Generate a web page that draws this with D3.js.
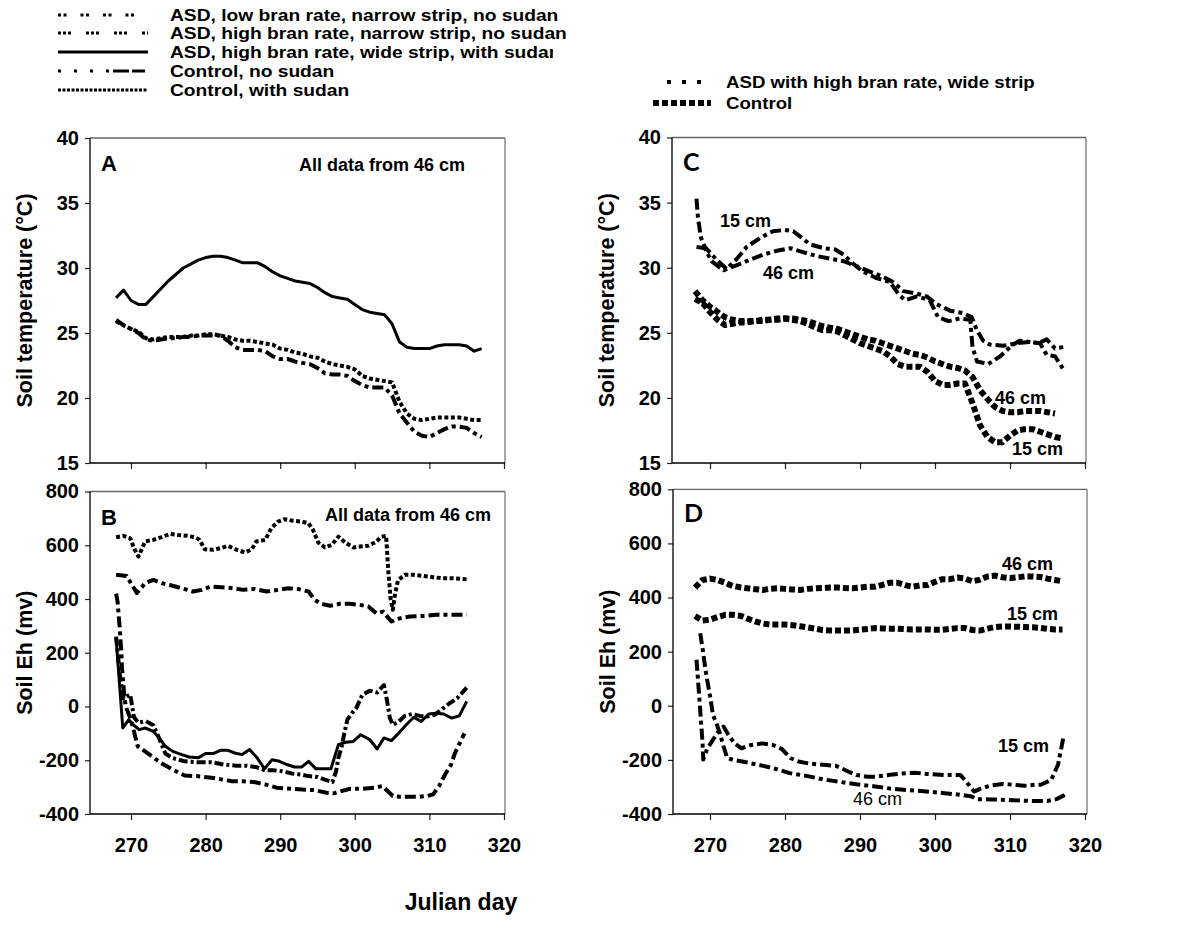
<!DOCTYPE html>
<html>
<head>
<meta charset="utf-8">
<script src="https://cdn.jsdelivr.net/npm/d3@7"></script>
<style>
  body { margin: 0; background: #fff; }
  svg { display: block; font-family: "Liberation Sans", Arial, sans-serif; }
</style>
</head>
<body>
<svg id="chart" width="1181" height="928"></svg>
<script>
// ---- data ----
const xTicks = [270, 280, 290, 300, 310, 320];
const tempTicks = [15, 20, 25, 30, 35, 40];
const ehTicks = [-400, -200, 0, 200, 400, 600, 800];

const dailyDays = [268, 269, 270, 271, 272, 273, 274, 275, 276, 277, 278, 279, 280, 281, 282, 283, 284, 285, 286, 287,
  288, 289, 290, 291, 292, 293, 294, 295, 296, 297, 298, 299, 300, 301, 302, 303, 304, 305, 306, 307,
  308, 309, 310, 311, 312, 313, 314, 315, 316, 317];

// Panel A - soil temperature at 46 cm
const aAsdWideSudan = [27.7, 28.3, 27.5, 27.2, 27.2, 27.8, 28.4, 29.0, 29.5, 30.0, 30.3, 30.6, 30.8, 30.9, 30.9, 30.8, 30.6, 30.4, 30.4, 30.4,
  30.1, 29.7, 29.4, 29.2, 29.0, 28.9, 28.8, 28.5, 28.1, 27.8, 27.7, 27.6, 27.2, 26.8, 26.6, 26.5, 26.4, 25.7, 24.3, 23.9,
  23.8, 23.8, 23.8, 24.0, 24.1, 24.1, 24.1, 24.0, 23.6, 23.8];
const aCtrlSudan = [25.9, 25.6, 25.3, 25.1, 24.6, 24.5, 24.6, 24.7, 24.7, 24.7, 24.8, 24.8, 24.9, 24.9, 24.8, 24.7, 24.5, 24.4, 24.4, 24.3,
  24.2, 24.1, 23.8, 23.7, 23.5, 23.4, 23.2, 23.1, 22.8, 22.6, 22.5, 22.4, 22.2, 21.7, 21.5, 21.4, 21.3, 21.2, 19.7, 18.8,
  18.4, 18.3, 18.4, 18.5, 18.5, 18.5, 18.5, 18.4, 18.3, 18.3];
const aCtrlNoSudan = [26.0, 25.6, 25.3, 25.0, 24.5, 24.4, 24.5, 24.6, 24.6, 24.7, 24.7, 24.8, 24.8, 24.8, 24.8, 24.4, 23.9, 23.7, 23.7, 23.7,
  23.6, 23.2, 23.0, 23.0, 22.8, 22.7, 22.6, 22.3, 21.9, 21.8, 21.8, 21.7, 21.3, 21.0, 20.8, 20.8, 20.8, 20.2, 18.8, 18.1,
  17.4, 17.1, 17.0, 17.3, 17.6, 17.8, 17.8, 17.7, 17.3, 17.0];

// Panel B - soil Eh at 46 cm
const bSudanDays = [268, 269, 269.9, 270.5, 271, 271.9, 273, 274.1, 275.2, 276.3, 277.5, 278.6, 279.2, 279.9, 281, 282, 283, 284.2, 285.3, 286.2,
  286.8, 288, 288.8, 289.7, 290.6, 291.7, 292.9, 293.8, 294.4, 295.1, 296, 296.9, 297.8, 298.7, 299.8, 300.7, 301.8, 302.7, 303.6, 304.2,
  304.5, 304.8, 305.1, 305.4, 305.8, 306.7, 307.8, 309.2, 310.5, 311.8, 313.2, 315];
const bSudanEh = [630, 635, 626, 583, 558, 614, 620, 630, 642, 638, 635, 630, 620, 585, 583, 589, 598, 583, 573, 585,
  614, 620, 663, 688, 697, 691, 688, 682, 657, 610, 592, 601, 632, 610, 592, 595, 598, 610, 632, 635,
  500, 400, 360, 420, 470, 490, 490, 486, 481, 477, 477, 473];
const bNoSudanDays = [268, 269.4, 270.8, 271.9, 273, 274.1, 275.2, 276.8, 278.3, 279.5, 280.6, 282.1, 283.7, 285, 286.6, 288.2, 289.7, 291.1,
  292.4, 293.8, 294.6, 295.5, 296.7, 298, 299.3, 300.7, 301.8, 302.9, 303.8, 304.9, 306, 307.4, 309.2, 310.9, 312.7, 315];
const bNoSudanEh = [490, 486, 422, 459, 471, 459, 452, 440, 428, 434, 446, 444, 440, 434, 437, 428, 434, 440,
  437, 428, 397, 382, 375, 382, 382, 378, 372, 347, 353, 316, 328, 335, 337, 341, 341, 341];
const bWideSudanDays = [268, 268.9, 269.7, 270.3, 271.1, 271.9, 273, 273.8, 274.6, 275.6, 276.8, 277.8, 279, 280, 281, 282, 283, 283.9,
  284.9, 285.9, 286.9, 287.9, 288.9, 289.9, 290.9, 291.9, 292.9, 293.8, 294.8, 295.8, 296.8, 297.8, 298.8, 299.8, 300.8, 302,
  303, 303.9, 304.9, 305.9, 306.9, 307.9, 308.9, 309.9, 310.9, 311.9, 313, 314, 315];
const bWideSudanEh = [255, -80, -49, -68, -86, -80, -93, -117, -148, -167, -179, -188, -191, -175, -175, -163, -163, -173,
  -179, -160, -191, -232, -198, -204, -216, -225, -225, -204, -232, -232, -232, -142, -133, -130, -105, -123,
  -158, -117, -127, -99, -68, -40, -56, -28, -25, -28, -43, -35, 19];
const bLowBranDays = [268, 268.5, 269, 269.9, 270.4, 271, 272, 273, 273.8, 274.6, 275.6, 277.2, 278.8, 280.8, 282.4, 284, 285.5, 286.7,
  287.9, 289, 290.3, 291.5, 292.7, 293.8, 295, 296, 297, 297.5, 297.8, 298.2, 298.6, 299, 299.6, 300.2, 301, 302,
  303, 303.9, 304.3, 304.7, 305.1, 305.9, 306.7, 307.7, 308.7, 309.7, 310.7, 311.7, 312.7, 313.7, 315];
const bLowBranEh = [260, 120, 30, 45, -40, -60, -55, -70, -120, -175, -192, -204, -207, -207, -216, -220, -220, -225,
  -237, -237, -241, -249, -253, -259, -262, -272, -281, -240, -191, -154, -99, -49, -25, -6, 43, 59,
  52, 80, 25, -43, -68, -56, -35, -28, -35, -37, -31, -10, 12, 30, 70];
const bHighNarrowDays = [268, 268.2, 268.4, 268.5, 268.6, 268.7, 268.8, 268.9, 269.1, 269.3, 270, 270.9, 272.3, 274, 275.6, 277.2,
  278.8, 280.8, 282.3, 283.5, 285, 286.5, 288, 289.5, 291.5, 293, 294.6, 296.2, 297.2, 298.2, 299.4, 301,
  302.6, 303.7, 305.1, 306.1, 307.3, 308.5, 309.7, 310.5, 311.3, 312.1, 312.9, 313.4, 314, 314.7];
const bHighNarrowEh = [420, 390, 320, 290, 240, 210, 140, 110, 40, 0, -50, -148, -175, -210, -235, -257,
  -259, -265, -272, -278, -278, -281, -290, -302, -306, -309, -311, -321, -323, -315, -306, -306,
  -302, -296, -333, -336, -336, -336, -333, -327, -296, -253, -216, -175, -140, -100];

// Panel C - soil temperature, ASD vs control at 15 and 46 cm
const cAsd15Days = [268.2, 268.4, 268.8, 269.3, 270.9, 272.2, 273.6, 274.9, 276.7, 278.4, 280, 281.1, 282, 283.3, 285.1, 286.7, 287.8, 289.1,
  290.4, 292.2, 294, 295.1, 296, 297.6, 299.3, 300.4, 301.8, 303.3, 304.7, 305, 305.6, 307.1, 308.7, 310.2, 311.3, 312.7,
  314, 314.9, 316, 317.1];
const cAsd15 = [35.3, 33.8, 32.3, 31.6, 30.6, 29.9, 30.7, 31.6, 32.3, 32.8, 32.9, 32.8, 32.4, 31.8, 31.5, 31.4, 31.0, 30.3,
  29.7, 29.2, 28.9, 28.0, 27.5, 27.8, 27.5, 26.2, 25.9, 26.1, 26.0, 23.9, 22.8, 22.6, 23.2, 24.0, 24.4, 24.3,
  24.2, 23.3, 23.2, 22.2];
const cAsd46Days = [268.2, 269.3, 270.2, 271.8, 273.6, 275.3, 277.1, 278.9, 280.7, 282.4, 284.2, 286, 287.8, 289.6, 291.3, 293.1, 294.4,
  295.8, 297.6, 298.9, 300.2, 302, 303.8, 304.9, 305.6, 306.4, 307.3, 309.1, 310.9, 312.7, 313.8, 314.9, 316, 317.1];
const cAsd46 = [31.6, 31.5, 30.5, 29.8, 30.2, 30.6, 31.0, 31.3, 31.5, 31.2, 30.9, 30.7, 30.5, 30.1, 29.7, 29.3, 28.9,
  28.2, 28.0, 27.8, 27.2, 26.7, 26.5, 26.2, 25.2, 24.4, 24.1, 24.0, 24.2, 24.3, 24.2, 24.5, 23.8, 23.9];
const cCtrl46 = [28.2, 27.5, 27.0, 26.6, 26.2, 26.0, 25.9, 25.9, 25.9, 26.0, 26.0, 26.1, 26.1, 26.1, 26.0, 25.9, 25.7, 25.5, 25.4, 25.3,
  25.1, 24.9, 24.7, 24.5, 24.4, 24.2, 24.0, 23.8, 23.6, 23.4, 23.3, 23.1, 22.8, 22.6, 22.4, 22.3, 22.1, 21.6, 20.6, 19.9,
  19.3, 19.0, 18.9, 18.9, 19.0, 19.0, 19.0, 18.9, 18.8];
const cCtrl15 = [27.6, 27.3, 26.6, 26.0, 25.6, 25.7, 25.8, 25.8, 25.9, 25.9, 26.0, 26.0, 26.1, 26.0, 25.9, 25.7, 25.4, 25.2, 25.2, 25.1,
  24.8, 24.5, 24.2, 24.0, 23.8, 23.6, 23.2, 22.6, 22.4, 22.4, 22.4, 22.0, 21.3, 21.0, 21.0, 21.1, 21.1, 19.6, 17.9, 17.0,
  16.6, 16.6, 17.1, 17.5, 17.6, 17.6, 17.4, 17.2, 17.0, 16.9];

// Panel D - soil Eh, ASD vs control at 15 and 46 cm
const dCtrl46 = [437, 465, 470, 465, 455, 443, 438, 434, 431, 428, 432, 434, 432, 430, 428, 432, 434, 435, 437, 437,
  435, 434, 437, 440, 440, 447, 455, 455, 446, 440, 445, 446, 458, 468, 468, 474, 470, 460, 466, 478,
  481, 475, 472, 475, 478, 478, 476, 470, 465, 460];
const dCtrl15 = [332, 315, 318, 328, 336, 336, 333, 322, 312, 304, 300, 300, 300, 298, 294, 290, 285, 280, 278, 278,
  278, 278, 281, 284, 287, 286, 285, 285, 283, 282, 282, 282, 281, 281, 284, 287, 287, 280, 278, 285,
  291, 293, 293, 292, 291, 290, 288, 284, 282, 282];
const dAsd15Days = [268.2, 268.4, 268.6, 268.8, 269, 269.1, 269.6, 270.3, 271, 271.8, 272.5, 273.3, 274.2, 275.5, 277, 278.4, 279.6, 280.7,
  281.8, 283.3, 285.1, 286.8, 288.2, 289.5, 291, 292.2, 294, 296.2, 297.5, 298.9, 301.2, 303.4, 304.3, 305.2, 306.2, 307.4,
  309, 310.5, 311.9, 313, 314.1, 315.5, 316.4, 317.1];
const dAsd15 = [170, 95, 20, -58, -133, -199, -160, -130, -100, -77, -110, -140, -157, -145, -139, -145, -160, -193,
  -206, -214, -218, -222, -240, -256, -262, -262, -255, -249, -248, -252, -256, -256, -285, -317, -305, -295,
  -289, -292, -296, -293, -292, -274, -218, -120];
const dAsd46Days = [268.7, 269.1, 269.5, 270, 270.4, 270.8, 271.3, 271.8, 272.3, 273.1, 275, 277.1, 279, 280.6, 283, 285.1, 287,
  289.5, 292, 294, 296.5, 298.5, 301, 303, 304.9, 305.5, 307.4, 309.5, 311.9, 313.5, 315, 316.2, 317.3];
const dAsd46 = [268, 194, 114, 37, -35, -60, -100, -150, -193, -200, -210, -222, -235, -249, -260, -272, -280,
  -290, -298, -306, -312, -316, -322, -328, -335, -345, -346, -348, -351, -352, -352, -345, -330];

const legendLeft = ["ASD, low bran rate, narrow strip, no sudan", "ASD, high bran rate, narrow strip, no sudan",
  "ASD, high bran rate, wide strip, with sudan", "Control, no sudan", "Control, with sudan"];
const legendRight = ["ASD with high bran rate, wide strip", "Control"];

// ---- drawing ----
const svg = d3.select("#chart");
const sans = "'Liberation Sans', Arial, sans-serif";

const style = {
  lowBran: { w: 4, dash: "9,3,3,3" },
  highNarrow: { w: 4, dash: "11,4,4,4" },
  wideSudan: { w: 3, dash: null },
  noSudan: { w: 4, dash: "11,4,4,4" },
  withSudan: { w: 4, dash: "4,2.5" },
  asd: { w: 4, dash: "11,4,4,4" },
  ctrl: { w: 6, dash: "6,3" }
};

// the original lettering is a little wider than plain Arial
function widen(sel, k) {
  sel.each(function () {
    const w = this.getComputedTextLength();
    d3.select(this).attr("textLength", w * k).attr("lengthAdjust", "spacingAndGlyphs");
  });
}

function addPanel(p) {
  const x = d3.scaleLinear().domain([270, 320]).range(p.xr);
  const y = d3.scaleLinear().domain(p.yd).range([p.bottom, p.top]);
  const g = svg.append("g");

  const xAxis = g.append("g")
    .attr("transform", `translate(0,${p.bottom})`)
    .call(d3.axisBottom(x).tickValues(xTicks).tickSize(6).tickSizeOuter(0).tickPadding(18)
      .tickFormat(p.showX ? d => String(d) : ""));
  xAxis.select(".domain").remove();

  const yAxis = g.append("g")
    .attr("transform", `translate(${p.left},0)`)
    .call(d3.axisLeft(y).tickValues(p.yt).tickSize(5).tickSizeOuter(0).tickPadding(6)
      .tickFormat(d => String(d)));
  yAxis.select(".domain").remove();

  g.selectAll(".tick line").attr("stroke", "#222").attr("stroke-width", 1.2);
  g.selectAll(".tick text")
    .attr("font-family", sans).attr("font-weight", "bold").attr("font-size", 20).attr("fill", "#000");

  // frame
  g.append("line").attr("x1", p.left).attr("x2", p.right).attr("y1", p.top).attr("y2", p.top)
    .attr("stroke", "#666").attr("stroke-width", 1.3);
  g.append("line").attr("x1", p.right).attr("x2", p.right).attr("y1", p.top).attr("y2", p.bottom)
    .attr("stroke", "#777").attr("stroke-width", 1.3);
  g.append("line").attr("x1", p.left).attr("x2", p.left).attr("y1", p.top).attr("y2", p.bottom)
    .attr("stroke", "#000").attr("stroke-width", 1.3);
  g.append("line").attr("x1", p.left).attr("x2", p.right).attr("y1", p.bottom).attr("y2", p.bottom)
    .attr("stroke", "#000").attr("stroke-width", 1.3);

  const line = d3.line().x(d => x(d[0])).y(d => y(d[1]));
  p.series.forEach(s => {
    g.append("path")
      .datum(d3.zip(s.days, s.vals))
      .attr("fill", "none")
      .attr("stroke", "#000")
      .attr("stroke-width", s.st.w)
      .attr("stroke-dasharray", s.st.dash)
      .attr("stroke-linejoin", "round")
      .attr("d", line);
  });

  // panel letter
  g.append("text").attr("x", p.left + 11).attr("y", p.top + 33)
    .attr("font-family", p.letterFont || sans).attr("font-weight", "bold").attr("font-size", p.letterSize || 22)
    .text(p.letter);

  // y title
  g.append("text")
    .attr("transform", `translate(${p.left - 66},${(p.top + p.bottom) / 2}) rotate(-90)`)
    .attr("text-anchor", "middle").attr("dy", "0.35em")
    .attr("font-family", sans).attr("font-weight", "bold").attr("font-size", 21.5)
    .text(p.title);

  (p.notes || []).forEach(n => {
    g.append("text").attr("x", n.x).attr("y", n.y)
      .attr("text-anchor", n.anchor || "start")
      .attr("font-family", sans).attr("font-weight", n.bold === false ? "normal" : "bold")
      .attr("font-size", n.size || 18)
      .text(n.t);
  });
  return g;
}

addPanel({
  left: 90, right: 505, top: 138, bottom: 463, xr: [131, 504], yd: [15, 40], yt: tempTicks,
  letter: "A", title: "Soil temperature (°C)",
  notes: [{ t: "All data from 46 cm", x: 299, y: 171, size: 18 }],
  series: [
    { days: dailyDays, vals: aCtrlSudan, st: style.withSudan },
    { days: dailyDays, vals: aCtrlNoSudan, st: style.noSudan },
    { days: dailyDays, vals: aAsdWideSudan, st: style.wideSudan }
  ]
});

addPanel({
  left: 90, right: 505, top: 491.5, bottom: 814, xr: [131, 504], yd: [-400, 800], yt: ehTicks, showX: true,
  letter: "B", title: "Soil Eh (mv)",
  notes: [{ t: "All data from 46 cm", x: 325, y: 521, size: 18 }],
  series: [
    { days: bSudanDays, vals: bSudanEh, st: style.withSudan },
    { days: bNoSudanDays, vals: bNoSudanEh, st: style.noSudan },
    { days: bHighNarrowDays, vals: bHighNarrowEh, st: style.highNarrow },
    { days: bLowBranDays, vals: bLowBranEh, st: style.lowBran },
    { days: bWideSudanDays, vals: bWideSudanEh, st: style.wideSudan }
  ]
});

addPanel({
  left: 672, right: 1086, top: 137.5, bottom: 463, xr: [710, 1085], yd: [15, 40], yt: tempTicks,
  letter: "C", letterFont: "Lato, 'Open Sans', sans-serif", letterSize: 25, title: "Soil temperature (°C)",
  notes: [
    { t: "15 cm", x: 720, y: 227 }, { t: "46 cm", x: 763, y: 279 },
    { t: "46 cm", x: 995, y: 404 }, { t: "15 cm", x: 1012, y: 455 }
  ],
  series: [
    { days: cAsd46Days, vals: cAsd46, st: style.asd },
    { days: cAsd15Days, vals: cAsd15, st: style.asd },
    { days: dailyDays.slice(0, cCtrl46.length), vals: cCtrl46, st: style.ctrl },
    { days: dailyDays, vals: cCtrl15, st: style.ctrl }
  ]
});

addPanel({
  left: 673, right: 1087, top: 489.3, bottom: 814, xr: [710, 1085], yd: [-400, 800], yt: ehTicks, showX: true,
  letter: "D", letterFont: "Lato, 'Open Sans', sans-serif", letterSize: 25, title: "Soil Eh (mv)",
  notes: [
    { t: "46 cm", x: 1002, y: 570 }, { t: "15 cm", x: 1007, y: 620 },
    { t: "15 cm", x: 998, y: 752 }, { t: "46 cm", x: 853, y: 805, bold: false, size: 18 }
  ],
  series: [
    { days: dailyDays, vals: dCtrl46, st: style.ctrl },
    { days: dailyDays, vals: dCtrl15, st: style.ctrl },
    { days: dAsd15Days, vals: dAsd15, st: style.asd },
    { days: dAsd46Days, vals: dAsd46, st: style.asd }
  ]
});

// x axis title
svg.append("text").attr("x", 461).attr("y", 910).attr("text-anchor", "middle")
  .attr("font-family", sans).attr("font-weight", "bold").attr("font-size", 23)
  .text("Julian day");

// legend for A/B (the original box cuts off the end of the third label)
const legLeftDash = ["3,2.5,3,14", "3,2,3,2,3,15", null, "3,13,3,13,3,13,3,4,16", "3,1.5"];
svg.append("clipPath").attr("id", "legclip").append("rect")
  .attr("x", 0).attr("y", 40).attr("width", 553).attr("height", 24);
const legA = svg.append("g");
const legRowY = [15, 33, 52, 71, 90];
legendLeft.forEach((label, i) => {
  legA.append("line").attr("x1", 58).attr("x2", 148).attr("y1", legRowY[i]).attr("y2", legRowY[i])
    .attr("stroke", "#000").attr("stroke-width", 3).attr("stroke-dasharray", legLeftDash[i]);
  legA.append("text").attr("x", 170).attr("y", legRowY[i]).attr("dy", "0.36em")
    .attr("font-family", sans).attr("font-weight", "bold").attr("font-size", 16)
    .attr("clip-path", i === 2 ? "url(#legclip)" : null)
    .text(label)
    .call(widen, 1.2);
});

// legend for C/D
const legRightY = [82, 103];
const legRightSpec = [{ x1: 667, w: 4, dash: "4,11" }, { x1: 653, w: 6, dash: "6,3" }];
legendRight.forEach((label, i) => {
  svg.append("line").attr("x1", legRightSpec[i].x1).attr("x2", 711).attr("y1", legRightY[i]).attr("y2", legRightY[i])
    .attr("stroke", "#000").attr("stroke-width", legRightSpec[i].w).attr("stroke-dasharray", legRightSpec[i].dash);
  svg.append("text").attr("x", 726).attr("y", legRightY[i]).attr("dy", "0.36em")
    .attr("font-family", sans).attr("font-weight", "bold").attr("font-size", 16.5)
    .text(label)
    .call(widen, 1.13);
});
</script>
</body>
</html>
